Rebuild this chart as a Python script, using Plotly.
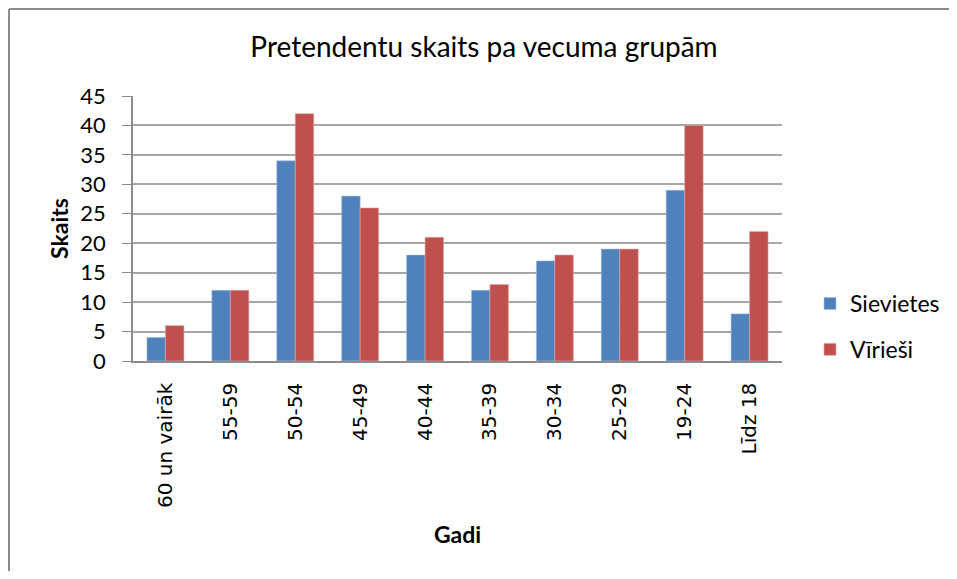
import plotly.graph_objects as go

categories = ["60 un vairāk", "55-59", "50-54", "45-49", "40-44", "35-39", "30-34", "25-29", "19-24", "Līdz 18"]
sievietes = [4, 12, 34, 28, 18, 12, 17, 19, 29, 8]
viriesi = [6, 12, 42, 26, 21, 13, 18, 19, 40, 22]
y_ticks = [0, 5, 10, 15, 20, 25, 30, 35, 40, 45]

# page body has an 8px margin: figure coords = screen coords - 8
OFF = 8
W, H = 957 - OFF, 579 - 2 * OFF
L, R, T, B = 133 - OFF, 782 - OFF, 96 - OFF, 361 - OFF
pw, ph = R - L, B - T

def px(x):  # screen x -> paper
    return (x - OFF - L) / pw

def py(y):  # screen y -> paper
    return (B - (y - OFF)) / ph

FONT = "Lato, Carlito, Calibri, sans-serif"

fig = go.Figure()
fig.add_trace(go.Bar(name="Sievietes", x=categories, y=sievietes, legendgroup="s",
                     marker=dict(color="#4F81BD", line=dict(color="#A7BEDE", width=0.6))))
fig.add_trace(go.Bar(name="Vīrieši", x=categories, y=viriesi, legendgroup="v",
                     marker=dict(color="#C0504D", line=dict(color="#E0A8A6", width=0.6))))

fig.update_layout(
    width=W, height=H, autosize=False,
    margin=dict(l=L, r=W - R, t=T, b=H - B, pad=0, autoexpand=False),
    paper_bgcolor="white", plot_bgcolor="white",
    barmode="group", bargap=0.43, bargroupgap=0,
    font=dict(family=FONT, size=20, color="#000000"),
    title=dict(text="Pretendentu skaits pa vecuma grupām", x=(484 - OFF) / W, xanchor="center",
               y=1 - (47 - OFF) / H, yanchor="middle", font=dict(size=28, color="#000000")),
    legend=dict(x=px(810), y=py(282), xanchor="left", yanchor="top",
                font=dict(size=23), tracegroupgap=13, itemwidth=30, traceorder="grouped",
                bgcolor="rgba(0,0,0,0)"),
    showlegend=True,
)

fig.update_xaxes(
    type="category", showgrid=False, showline=True, linecolor="#8C8C8C", linewidth=1.5,
    ticks="", tickangle=-90, ticklabelstandoff=12,
    tickfont=dict(family="DejaVu Sans, sans-serif", size=20),
    title=dict(text="<b>Gadi</b>", font=dict(size=23), standoff=20),
)
fig.update_yaxes(
    range=[0, 45], tickvals=y_ticks, showgrid=True, gridcolor="#A6A6A6", gridwidth=1.5,
    showline=True, linecolor="#8C8C8C", linewidth=1.5,
    ticks="outside", ticklen=9, tickcolor="#8C8C8C", tickwidth=1, ticklabelstandoff=12,
    tickfont=dict(size=22),
    title=dict(text="<b>Skaits</b>", font=dict(size=23), standoff=5),
    zeroline=False,
)

# outer chart frame (only left and top edges are visible in the picture)
fig.add_shape(type="line", xref="paper", yref="paper",
              x0=px(OFF + 1), x1=px(OFF + 1), y0=py(OFF + 1), y1=py(579 + 20),
              line=dict(color="#8C8C8C", width=2), layer="below")
fig.add_shape(type="line", xref="paper", yref="paper",
              x0=px(OFF + 1), x1=px(957 + 20), y0=py(OFF + 1), y1=py(OFF + 1),
              line=dict(color="#8C8C8C", width=2), layer="below")

fig.write_html("out.html")
